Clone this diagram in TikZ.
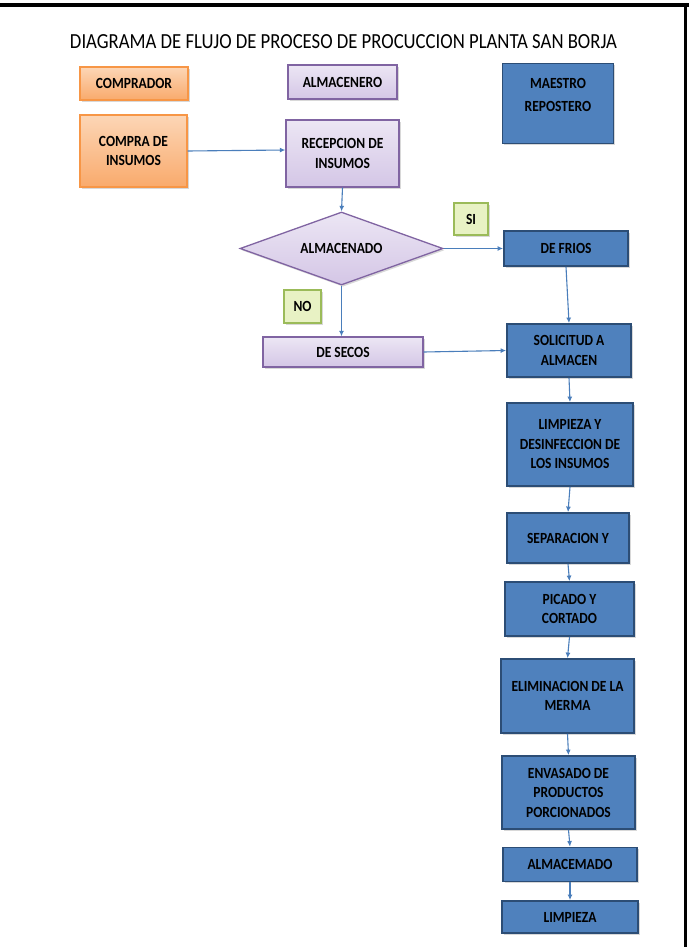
\documentclass[tikz,border=0pt]{standalone}
\usepackage{fontspec}
\setmainfont{Carlito}[FakeStretch=0.87]
\usetikzlibrary{shapes.geometric,arrows.meta,shadows}
\definecolor{orborder}{RGB}{247,150,70}
\definecolor{ortop}{RGB}{252,214,182}
\definecolor{orbot}{RGB}{249,170,108}
\definecolor{puborder}{RGB}{128,100,162}
\definecolor{putop}{RGB}{236,230,244}
\definecolor{pubot}{RGB}{212,198,230}
\definecolor{blfill}{RGB}{79,129,189}
\definecolor{blborder}{RGB}{44,77,117}
\definecolor{grborder}{RGB}{155,187,89}
\definecolor{grfill}{RGB}{232,242,196}
\definecolor{arrowc}{RGB}{74,126,187}
\begin{document}
\begin{tikzpicture}[x=1pt,y=-1pt,
  box/.style={rectangle, inner sep=0pt, align=center, text=black,
    font=\bfseries\fontsize{15.5}{19.5}\selectfont,
    drop shadow={shadow xshift=1.5pt, shadow yshift=-1.8pt, opacity=0.3}},
  orangebox/.style={box, draw=orborder, line width=1.4pt, top color=ortop, bottom color=orbot},
  purplebox/.style={box, draw=puborder, line width=1.3pt, top color=putop, bottom color=pubot},
  bluebox/.style={box, draw=blborder, line width=1.8pt, fill=blfill},
  greenbox/.style={box, draw=grborder, line width=1.3pt, fill=grfill},
  lbl/.style={inner sep=0pt, align=center, text=black, font=\bfseries\fontsize{15.5}{23.5}\selectfont},
  conn/.style={draw=arrowc, line width=1.1pt, -{Latex[length=5.5pt,width=5pt]}}
]
\useasboundingbox (0,0) rectangle (689,947);
\fill[white] (0,0) rectangle (689,947);
\draw[line width=3.5pt] (0,4.8) -- (689,4.8);
\draw[line width=3.5pt] (685.5,3) -- (685.5,947);

\node[font=\fontsize{21.5}{25}\selectfont] (title) at (343.5,41.5)
  {DIAGRAMA DE FLUJO DE PROCESO DE PROCUCCION PLANTA SAN BORJA};

\node[orangebox, minimum width=108pt, minimum height=33pt] (comprador) at (134,83.5) {COMPRADOR};
\node[orangebox, minimum width=107pt, minimum height=72pt] (compra) at (133.5,151) {COMPRA DE\\INSUMOS};
\node[purplebox, minimum width=109pt, minimum height=34pt] (almacenero) at (342.5,82) {ALMACENERO};
\node[purplebox, minimum width=113pt, minimum height=67pt] (recepcion) at (342.5,153.5) {RECEPCION DE\\INSUMOS};
\node[bluebox, minimum width=111pt, minimum height=80pt] (maestro) at (558,103.5) {};
\node[lbl, anchor=north] (maestrotxt) at (558,78) {MAESTRO\\REPOSTERO};

\node[diamond, aspect=2.78, minimum width=203pt, minimum height=73pt, inner sep=0pt,
  draw=puborder, line width=1.3pt, top color=putop, bottom color=pubot, text=black,
  font=\bfseries\fontsize{15.5}{19.5}\selectfont,
  drop shadow={shadow xshift=1.5pt, shadow yshift=-1.8pt, opacity=0.3}] (alm) at (341.5,248.5) {ALMACENADO};

\node[greenbox, minimum width=34pt, minimum height=32pt] (si) at (471,219) {SI};
\node[greenbox, minimum width=37pt, minimum height=33pt] (no) at (302.5,306.5) {NO};

\node[bluebox, minimum width=124pt, minimum height=35pt] (defrios) at (566,248.5) {DE FRIOS};
\node[purplebox, minimum width=160pt, minimum height=30pt] (desecos) at (343,352) {DE SECOS};
\node[bluebox, minimum width=124pt, minimum height=53pt] (solicitud) at (569,350.5) {SOLICITUD A\\ALMACEN};
\node[bluebox, minimum width=126pt, minimum height=83pt] (limpieza) at (570,444.5) {LIMPIEZA Y\\DESINFECCION DE\\LOS INSUMOS};
\node[bluebox, minimum width=122pt, minimum height=50pt] (separacion) at (568,538) {SEPARACION Y};
\node[bluebox, minimum width=129pt, minimum height=54pt] (picado) at (569.5,609) {PICADO Y\\CORTADO};
\node[bluebox, minimum width=133pt, minimum height=74pt] (eliminacion) at (567.5,696) {ELIMINACION DE LA\\MERMA};
\node[bluebox, minimum width=133pt, minimum height=73pt] (envasado) at (568.5,792.5) {ENVASADO DE\\PRODUCTOS\\PORCIONADOS};
\node[bluebox, minimum width=134pt, minimum height=34pt] (almacemado) at (570,864.5) {ALMACEMADO};
\node[bluebox, minimum width=136pt, minimum height=32pt] (limpiezafin) at (570,917) {LIMPIEZA};

\draw[conn] (compra.east) -- (recepcion.west |- 0,150);
\draw[conn] (recepcion.south) -- (alm.north);
\draw[conn] (alm.east) -- (defrios.west);
\draw[conn] (alm.south) -- (desecos.north -| alm.south);
\draw[conn] (defrios.south) -- (solicitud.north);
\draw[conn] (desecos.east) -- (solicitud.west);
\draw[conn] (solicitud.south) -- (limpieza.north);
\draw[conn] (limpieza.south) -- (separacion.north);
\draw[conn] (separacion.south) -- (picado.north);
\draw[conn] (picado.south) -- (eliminacion.north);
\draw[conn] (eliminacion.south) -- (envasado.north);
\draw[conn] (envasado.south) -- (almacemado.north);
\draw[conn] (almacemado.south) -- (limpiezafin.north);
\end{tikzpicture}
\end{document}
